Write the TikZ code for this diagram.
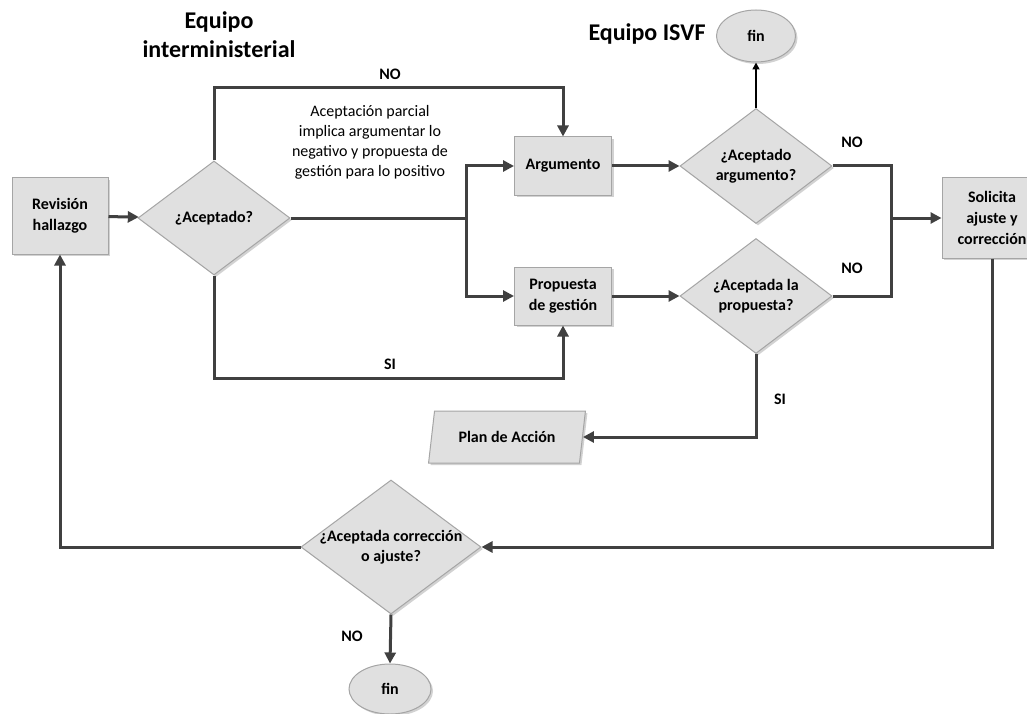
\documentclass[tikz,border=0pt]{standalone}
\usepackage{fontspec}
\setmainfont{Carlito}
\usetikzlibrary{arrows.meta,shapes.geometric,shadows}
\definecolor{linec}{RGB}{64,64,64}
\definecolor{fillc}{RGB}{224,224,224}
\definecolor{edgec}{RGB}{165,165,165}
\tikzset{
  shp/.style={fill=fillc, draw=edgec, line width=1pt,
    drop shadow={opacity=0.35, shadow xshift=2pt, shadow yshift=-2pt},
    font=\bfseries\fontsize{16}{21}\selectfont, align=center, inner sep=1pt},
  boxnode/.style={shp, rectangle},
  decision/.style={shp, diamond, inner sep=0pt},
  endnode/.style={shp, ellipse},
  ionode/.style={shp, trapezium, trapezium left angle=73, trapezium right angle=107,
    trapezium stretches=true},
  wire/.style={draw=linec, line width=3pt},
  flow/.style={wire, -{Triangle[length=11pt,width=11pt]}},
  thinflow/.style={draw=black, line width=1.6pt, -{Triangle[length=7pt,width=7pt]}},
  lbl/.style={font=\bfseries\fontsize{16}{20}\selectfont, inner sep=0pt},
  ttl/.style={font=\bfseries\fontsize{24}{29}\selectfont, align=center, inner sep=0pt},
  note/.style={font=\fontsize{16}{20}\selectfont, align=center, inner sep=0pt}
}
\begin{document}
\begin{tikzpicture}[x=1pt,y=-1pt]
\useasboundingbox (0,0) rectangle (1027,714);
\fill[white] (0,0) rectangle (1027,714);

% titles and notes
\node[ttl] (t1) at (219,35) {Equipo\\interministerial};
\node[ttl] (t2) at (647,34) {Equipo ISVF};
\node[note] (nt) at (370,142) {Aceptación parcial\\implica argumentar lo\\negativo y propuesta de\\gestión para lo positivo};

% shapes
\node[boxnode, minimum width=96pt, minimum height=76pt] (rev) at (60,216) {Revisión\\hallazgo};
\node[decision, minimum width=152pt, minimum height=114pt,
  label={[lbl]center:¿Aceptado?}] (acc) at (214,218) {};
\node[boxnode, minimum width=97pt, minimum height=58pt] (arg) at (563,166) {Argumento};
\node[boxnode, minimum width=97pt, minimum height=58pt] (prop) at (563,296) {Propuesta\\de gestión};
\node[decision, minimum width=152pt, minimum height=115pt,
  label={[lbl,align=center]center:¿Aceptado\\argumento?}] (dArg) at (756,166) {};
\node[decision, minimum width=152pt, minimum height=115pt,
  label={[lbl,align=center]center:¿Aceptada la\\propuesta?}] (dProp) at (756,296) {};
\node[endnode, minimum width=79pt, minimum height=52pt] (fin1) at (756,36) {fin};
\node[boxnode, minimum width=100pt, minimum height=80pt] (sol) at (992,218) {Solicita\\ajuste y\\corrección};
\node[ionode, minimum width=157pt, minimum height=52pt] (plan) at (507,437) {Plan de Acción};
\node[decision, minimum width=180pt, minimum height=134pt,
  label={[lbl,align=center]center:¿Aceptada corrección\\o ajuste?}] (dC) at (391,547) {};
\node[endnode, minimum width=82pt, minimum height=50pt] (fin2) at (390,689) {fin};

% helper coordinates
\coordinate (nTop) at (214,88);
\coordinate (sBot) at (214,378);
\coordinate (jn) at (466,218);
\coordinate (jr) at (891,218);

% connectors
\draw[flow] (rev) -- (acc);
\draw[flow] (acc.north) -- (nTop) -| (arg.north);
\draw[wire] (acc.east) -- (jn);
\draw[flow] (jn) |- (arg.west);
\draw[flow] (jn) |- (prop.west);
\draw[flow] (acc.south) -- (sBot) -| (prop.south);
\draw[flow] (arg) -- (dArg);
\draw[flow] (prop) -- (dProp);
\draw[thinflow] (dArg.north) -- (fin1.south);
\draw[wire] (dArg.east) -| (jr);
\draw[wire] (dProp.east) -| (jr);
\draw[flow] (jr) -- (sol.west);
\draw[flow] (dProp.south) |- (plan.east);
\draw[flow] (sol.south) |- (dC.east);
\draw[flow] (dC.west) -| (rev.south);
\draw[flow] (dC.south) -- (fin2.north);

% edge labels
\node[lbl] (l1) at (390,74) {NO};
\node[lbl] (l2) at (390,364) {SI};
\node[lbl] (l3) at (852,142) {NO};
\node[lbl] (l4) at (852,268) {NO};
\node[lbl] (l5) at (780,399) {SI};
\node[lbl] (l6) at (352,636) {NO};
\end{tikzpicture}
\end{document}
